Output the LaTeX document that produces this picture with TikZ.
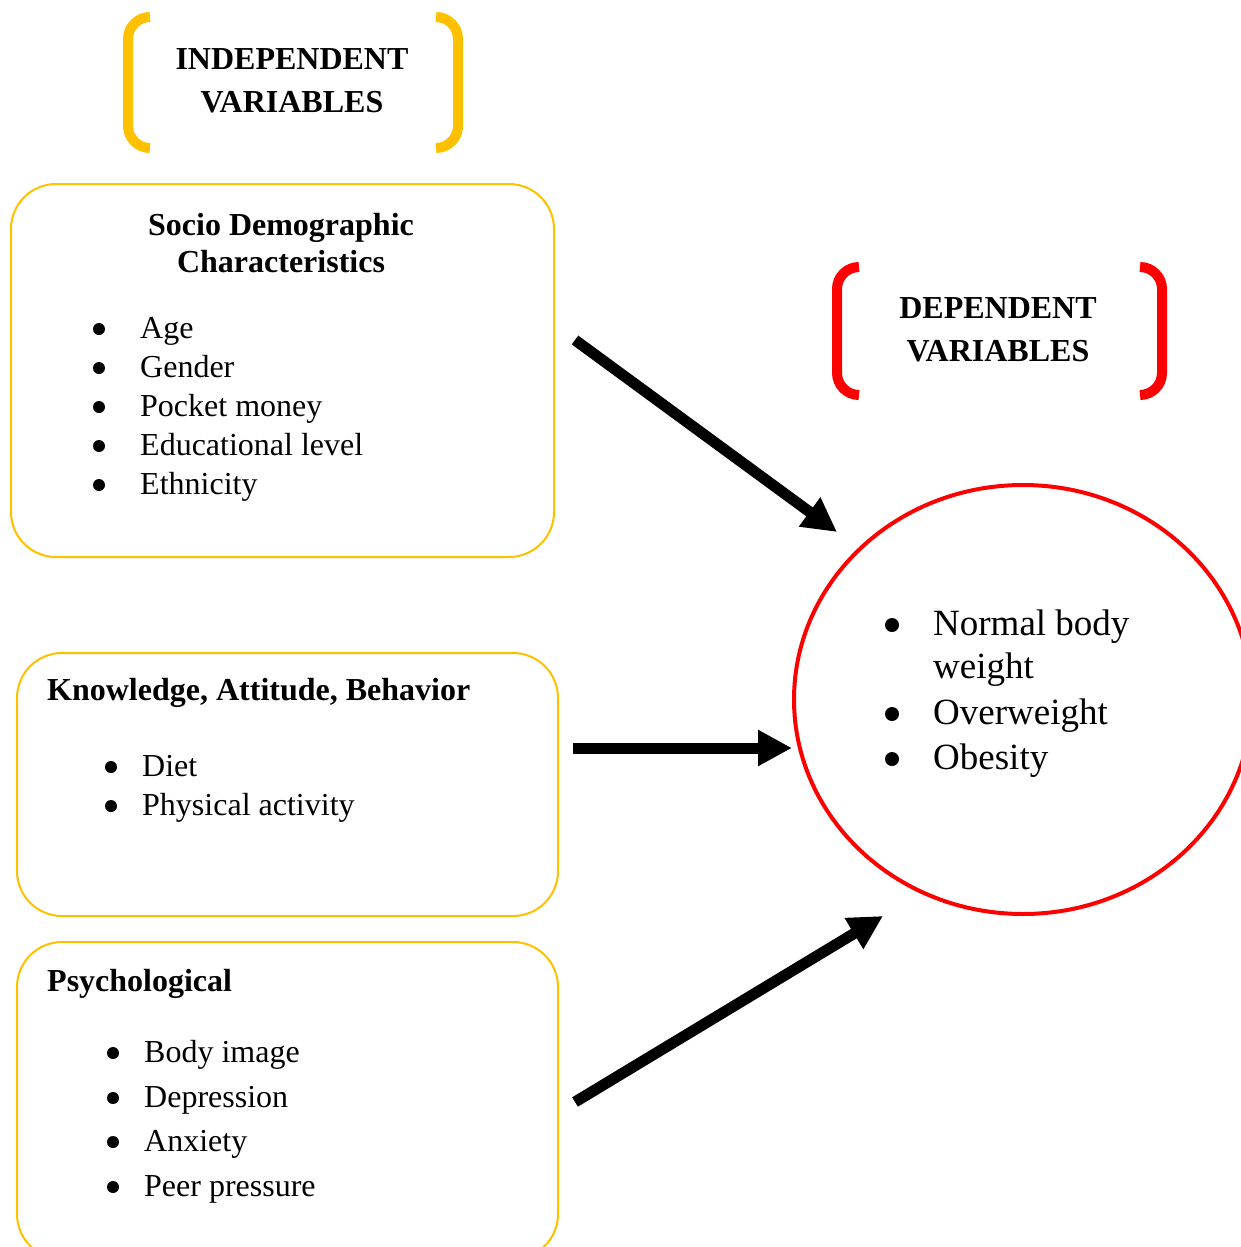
\documentclass[tikz,border=0pt]{standalone}
\usepackage{fontspec}
\setmainfont{Liberation Serif}
\usetikzlibrary{arrows.meta,shapes.geometric}
\definecolor{gold}{RGB}{255,192,0}
\definecolor{pred}{RGB}{255,0,0}
\begin{document}
\begin{tikzpicture}[x=1pt,y=-1pt,
  box/.style={draw=gold,line width=2pt,rounded corners=45pt,anchor=north west,inner sep=0pt},
  brk/.style={line width=10pt,rounded corners=22pt},
  txt/.style={font=\fontsize{32}{39}\selectfont,inner sep=0pt,anchor=base west},
  bul/.style={circle,fill=black,inner sep=0pt,minimum size=12pt},
  bigtxt/.style={font=\fontsize{37}{45}\selectfont,inner sep=0pt,anchor=base west},
  bigbul/.style={circle,fill=black,inner sep=0pt,minimum size=14pt},
  hdc/.style={font=\fontsize{32}{39}\selectfont\bfseries,inner sep=0pt,anchor=base},
  hdl/.style={font=\fontsize{32}{39}\selectfont\bfseries,inner sep=0pt,anchor=base west},
  bigarr/.style={line width=11pt,-{Triangle[length=34pt,width=34pt]}}]
\useasboundingbox (0,0) rectangle (1241,1247);
\clip (0,0) rectangle (1241,1247);

% brackets
\draw[brk,gold] (150,17) -- (128,17) -- (128,148) -- (150,148);
\draw[brk,gold] (436,17) -- (458,17) -- (458,148) -- (436,148);
\draw[brk,pred] (859,267) -- (837,267) -- (837,395) -- (859,395);
\draw[brk,pred] (1140,267) -- (1162,267) -- (1162,395) -- (1140,395);
\node[hdc] (iv1) at (292,70) {INDEPENDENT};
\node[hdc] (iv2) at (292,112) {VARIABLES};
\node[hdc] (dv1) at (998,318) {DEPENDENT};
\node[hdc] (dv2) at (998,361) {VARIABLES};

% boxes
\node[box,minimum width=543pt,minimum height=373pt] (b1) at (10,183) {};
\node[box,minimum width=541pt,minimum height=263pt] (b2) at (16,652) {};
\node[box,minimum width=541pt,minimum height=317pt] (b3) at (16,941) {};

% box 1 text
\node[hdc] (h1a) at (281,235) {Socio Demographic};
\node[hdc] (h1b) at (281,272) {Characteristics};
\node[bul] (p1) at (99,329) {}; \node[txt] (t1) at (140,338) {Age};
\node[bul] (p2) at (99,368) {}; \node[txt] (t2) at (140,377) {Gender};
\node[bul] (p3) at (99,407) {}; \node[txt] (t3) at (140,416) {Pocket money};
\node[bul] (p4) at (99,446) {}; \node[txt] (t4) at (140,455) {Educational level};
\node[bul] (p5) at (99,485) {}; \node[txt] (t5) at (140,494) {Ethnicity};

% box 2 text
\node[hdl] (h2) at (47,700) {Knowledge, Attitude, Behavior};
\node[bul] (q1) at (111,767) {}; \node[txt] (u1) at (142,776) {Diet};
\node[bul] (q2) at (111,806) {}; \node[txt] (u2) at (142,815) {Physical activity};

% box 3 text
\node[hdl] (h3) at (47,991) {Psychological};
\node[bul] (r1) at (113,1053) {}; \node[txt] (v1) at (144,1062) {Body image};
\node[bul] (r2) at (113,1098) {}; \node[txt] (v2) at (144,1107) {Depression};
\node[bul] (r3) at (113,1142) {}; \node[txt] (v3) at (144,1151) {Anxiety};
\node[bul] (r4) at (113,1187) {}; \node[txt] (v4) at (144,1196) {Peer pressure};

% dependent circle
\node[draw=pred,line width=4pt,ellipse,minimum width=458pt,minimum height=429pt,inner sep=0pt] (dv) at (1023,699.5) {};
\node[bigbul] (c1) at (892,625) {}; \node[bigtxt] (w1) at (933,635) {Normal body};
\node[bigtxt] (w1b) at (933,678) {weight};
\node[bigbul] (c2) at (892,714) {}; \node[bigtxt] (w2) at (933,724) {Overweight};
\node[bigbul] (c3) at (892,759) {}; \node[bigtxt] (w3) at (933,769) {Obesity};

% arrows
\coordinate (a1s) at (575,340); \coordinate (a1e) at (837,532);
\coordinate (a2s) at (573,748); \coordinate (a2e) at (792,748);
\coordinate (a3s) at (575,1102); \coordinate (a3e) at (883,916);
\draw[bigarr] (a1s) -- (a1e);
\draw[bigarr] (a2s) -- (a2e);
\draw[bigarr] (a3s) -- (a3e);
\end{tikzpicture}
\end{document}
